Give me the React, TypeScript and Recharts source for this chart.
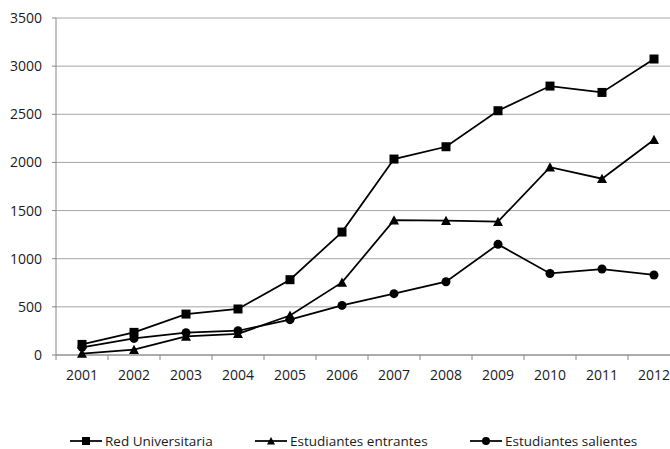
import React from "react";
import { LineChart, Line, XAxis, YAxis, CartesianGrid, Legend } from "recharts";

const years = [2001, 2002, 2003, 2004, 2005, 2006, 2007, 2008, 2009, 2010, 2011, 2012];
const redUniversitaria = [110, 235, 425, 478, 782, 1277, 2035, 2163, 2537, 2793, 2727, 3074];
const estudiantesEntrantes = [15, 55, 193, 220, 410, 754, 1400, 1395, 1385, 1950, 1831, 2236];
const estudiantesSalientes = [80, 172, 232, 252, 367, 515, 637, 761, 1149, 847, 893, 831];
const seriesNames = ["Red Universitaria", "Estudiantes entrantes", "Estudiantes salientes"];
const yTicks = [0, 500, 1000, 1500, 2000, 2500, 3000, 3500];

const data = years.map((year, i) => ({
  year,
  red: redUniversitaria[i],
  entrantes: estudiantesEntrantes[i],
  salientes: estudiantesSalientes[i],
}));

// labels at each year, tick marks between categories
const xTicks = [years[0] - 0.5, ...years.flatMap((y) => [y, y + 0.5])];

const FONT = "'Open Sans', sans-serif";
const GRID = "#a6a6a6";
const AXIS = "#868686";

const Square = ({ cx, cy, s = 9 }: any) => (
  <rect x={cx - s / 2} y={cy - s / 2} width={s} height={s} fill="#000" />
);
const Triangle = ({ cx, cy, s = 10 }: any) => (
  <polygon
    points={`${cx},${cy - s / 2} ${cx + s / 2},${cy + s * 0.43} ${cx - s / 2},${cy + s * 0.43}`}
    fill="#000"
  />
);
const Circle = ({ cx, cy, s = 9 }: any) => <circle cx={cx} cy={cy} r={s / 2} fill="#000" />;

const markers = [Square, Triangle, Circle];
const legendLeft = [62, 247, 462];

const XTick = ({ x, y, payload }: any) => {
  const v = payload.value;
  if (Number.isInteger(v)) {
    return (
      <text x={x} y={y + 15} dy="0.71em" textAnchor="middle" fontSize={14} fill="#1a1a1a" fontFamily={FONT}>
        {v}
      </text>
    );
  }
  return <line x1={x} x2={x} y1={y} y2={y + 5} stroke={AXIS} />;
};

const LegendContent = () => (
  <div style={{ position: "relative", height: 18, fontFamily: FONT, fontSize: 13.5, color: "#1a1a1a" }}>
    {seriesNames.map((name, i) => {
      const M = markers[i];
      return (
        <div
          key={name}
          style={{ position: "absolute", left: legendLeft[i], top: 0, display: "flex", alignItems: "center", whiteSpace: "nowrap" }}
        >
          <svg width={32} height={12}>
            <line x1={0} x2={32} y1={6} y2={6} stroke="#000" strokeWidth={1.75} />
            <M cx={16} cy={6} s={8} />
          </svg>
          <span style={{ marginLeft: 3 }}>{name}</span>
        </div>
      );
    })}
  </div>
);

const App: React.FC = () => {
  const dot = (M: any) => (props: any) => <M key={`${props.dataKey}-${props.index}`} cx={props.cx} cy={props.cy} />;
  return (
    <div style={{ width: 670, height: 449, overflow: "hidden", position: "relative" }}>
      <style>{"html,body{margin:0;overflow:hidden}"}</style>
      <div style={{ position: "absolute", left: 8, top: 8 }}>
        <LineChart width={662} height={441} data={data} margin={{ top: 10, right: -10, left: 0, bottom: 64 }}>
          <CartesianGrid vertical={false} stroke={GRID} />
          <XAxis
            dataKey="year"
            type="number"
            domain={[years[0] - 0.5, years[years.length - 1] + 0.5]}
            ticks={xTicks}
            interval={0}
            height={30}
            tickSize={0}
            tickMargin={0}
            tickLine={false}
            axisLine={{ stroke: AXIS }}
            tick={<XTick />}
          />
          <YAxis
            domain={[0, 3500]}
            ticks={yTicks}
            width={48}
            tickSize={4}
            tickMargin={10}
            axisLine={{ stroke: AXIS }}
            tickLine={{ stroke: AXIS }}
            tick={{ fontSize: 14, fill: "#1a1a1a", fontFamily: FONT }}
          />
          <Legend
            layout="horizontal"
            verticalAlign="middle"
            align="center"
            wrapperStyle={{ top: 424, left: 0, width: 662 }}
            content={<LegendContent />}
          />
          <Line dataKey="red" name={seriesNames[0]} stroke="#000" strokeWidth={1.75} dot={dot(Square)} isAnimationActive={false} />
          <Line dataKey="entrantes" name={seriesNames[1]} stroke="#000" strokeWidth={1.75} dot={dot(Triangle)} isAnimationActive={false} />
          <Line dataKey="salientes" name={seriesNames[2]} stroke="#000" strokeWidth={1.75} dot={dot(Circle)} isAnimationActive={false} />
        </LineChart>
      </div>
    </div>
  );
};

export default App;
